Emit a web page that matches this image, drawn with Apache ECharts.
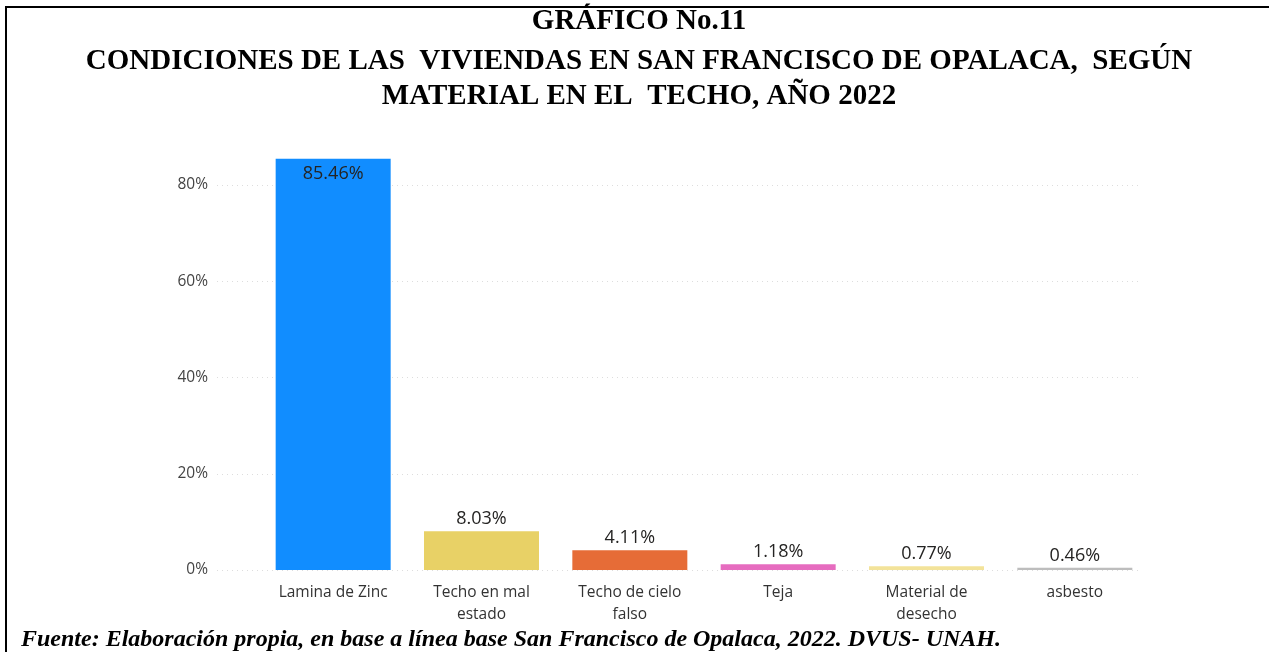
<!DOCTYPE html>
<html>
<head>
<meta charset="utf-8">
<script src="https://cdn.jsdelivr.net/npm/echarts@6/dist/echarts.min.js"></script>
<style>
html,body{margin:0;padding:0;background:#fff;}
#chart{width:1269px;height:652px;}
</style>
</head>
<body>
<div id="chart"></div>
<script>
const categories = ['Lamina de Zinc', 'Techo en mal\nestado', 'Techo de cielo\nfalso', 'Teja', 'Material de\ndesecho', 'asbesto'];
const values = [85.46, 8.03, 4.11, 1.18, 0.77, 0.46];
const barColors = ['#118DFF', '#E8D166', '#E66C37', '#E66CBF', '#F3E39A', '#BDBDBD'];
const yTicks = [0, 20, 40, 60, 80];
const titleLines = ['GRÁFICO No.11', 'CONDICIONES DE LAS  VIVIENDAS EN SAN FRANCISCO DE OPALACA,  SEGÚN', 'MATERIAL EN EL  TECHO, AÑO 2022'];
const footer = 'Fuente: Elaboración propia, en base a línea base San Francisco de Opalaca, 2022. DVUS- UNAH.';

const chart = echarts.init(document.getElementById('chart'));
const sansFont = '"Open Sans", "Noto Sans", sans-serif';
const serifFont = '"Liberation Serif", "Times New Roman", serif';

const option = {
  animation: false,
  backgroundColor: '#fff',
  graphic: [
    { type: 'line', shape: { x1: 6, y1: 7, x2: 1269, y2: 7 }, style: { stroke: '#000', lineWidth: 2 } },
    { type: 'line', shape: { x1: 6, y1: 6, x2: 6, y2: 652 }, style: { stroke: '#000', lineWidth: 2 } },
    { type: 'text', x: 639, y: 22, style: { text: titleLines[0], font: 'bold 29px ' + serifFont, fill: '#000', textAlign: 'center', textVerticalAlign: 'middle' } },
    { type: 'text', x: 639, y: 62, style: { text: titleLines[1], font: 'bold 29px ' + serifFont, fill: '#000', textAlign: 'center', textVerticalAlign: 'middle' } },
    { type: 'text', x: 639, y: 97, style: { text: titleLines[2], font: 'bold 29px ' + serifFont, fill: '#000', textAlign: 'center', textVerticalAlign: 'middle' } },
    { type: 'text', x: 21, y: 640, style: { text: footer, font: 'italic bold 24px ' + serifFont, fill: '#000', textAlign: 'left', textVerticalAlign: 'middle' } }
  ],
  grid: [
    { left: 217, right: 127, top: 185, bottom: 82, containLabel: false },
    { left: 259, right: 120, top: 88.75, bottom: 82, containLabel: false }
  ],
  xAxis: [
    { type: 'category', gridIndex: 0, data: categories, show: false },
    {
      type: 'category', gridIndex: 1, data: categories,
      axisLine: { show: false }, axisTick: { show: false },
      axisLabel: { color: '#333', fontFamily: sansFont, fontSize: 15.5, lineHeight: 22, margin: 12, interval: 0 }
    }
  ],
  yAxis: [
    {
      type: 'value', gridIndex: 0, min: yTicks[0], max: yTicks[yTicks.length - 1], interval: 20,
      axisLine: { show: false }, axisTick: { show: false },
      axisLabel: { color: '#444', fontFamily: sansFont, fontSize: 15.5, margin: 9, formatter: v => v + '%' },
      splitLine: { show: true, lineStyle: { color: '#DDDDDD', type: [1, 4], width: 1 } }
    },
    { type: 'value', gridIndex: 1, min: 0, max: 100, show: false, splitLine: { show: false } }
  ],
  series: [
    {
      type: 'bar', xAxisIndex: 1, yAxisIndex: 1,
      barWidth: 115,
      data: values.map((v, i) => ({
        value: v,
        itemStyle: { color: barColors[i] },
        label: i === 0 ? { position: 'insideTop', distance: 6 } : { position: 'top', distance: 3 }
      })),
      label: {
        show: true, color: '#252423', fontFamily: sansFont, fontSize: 18,
        formatter: p => p.value.toFixed(2) + '%'
      }
    }
  ]
};
chart.setOption(option);
</script>
</body>
</html>
